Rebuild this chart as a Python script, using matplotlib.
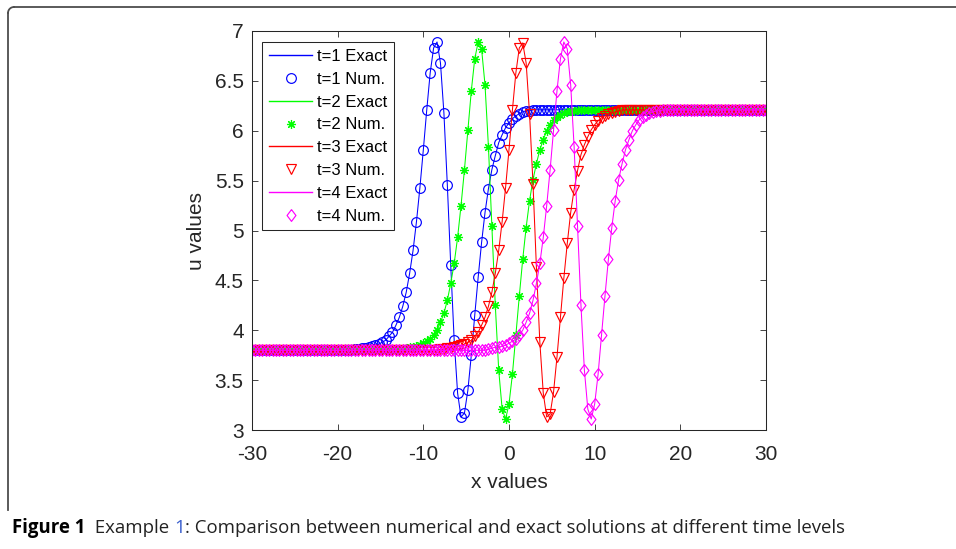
import matplotlib
matplotlib.use('Agg')
import matplotlib.pyplot as plt
import numpy as np
from matplotlib.lines import Line2D

# computation grid: x from -30 to 30, step 0.4
x = np.linspace(-30, 30, 151)

# u values (exact and numerical coincide at plot scale)
u_t1 = ([3.80] * 30 +
        [3.81, 3.81, 3.82, 3.82, 3.83, 3.84, 3.85, 3.86, 3.88, 3.90,
         3.94, 3.98, 4.05, 4.13, 4.24, 4.38, 4.57, 4.80, 5.09, 5.43,
         5.81, 6.21, 6.58, 6.83, 6.89, 6.68, 6.18, 5.46, 4.65, 3.90,
         3.37, 3.13, 3.17, 3.40, 3.75, 4.15, 4.53, 4.88, 5.18, 5.42,
         5.61, 5.75, 5.88, 5.96, 6.03, 6.08, 6.12, 6.15, 6.17, 6.19,
         6.20, 6.20, 6.21] +
        [6.21] * 68)

u_t2 = ([3.80] * 44 +
        [3.81, 3.82, 3.83, 3.83, 3.84, 3.85, 3.87, 3.89, 3.91, 3.95,
         4.00, 4.08, 4.17, 4.30, 4.47, 4.67, 4.93, 5.25, 5.61, 6.01,
         6.40, 6.72, 6.89, 6.82, 6.46, 5.84, 5.05, 4.25, 3.60, 3.21,
         3.11, 3.26, 3.56, 3.95, 4.34, 4.71, 5.03, 5.30, 5.51, 5.67,
         5.81, 5.91, 6.00, 6.06, 6.11, 6.14, 6.16, 6.18, 6.19, 6.20,
         6.20] +
        [6.21] * 56)

u_t3 = ([3.80] * 55 +
        [3.81, 3.81, 3.82, 3.82, 3.83, 3.84, 3.85, 3.86, 3.88, 3.90,
         3.94, 3.98, 4.05, 4.13, 4.24, 4.38, 4.57, 4.80, 5.09, 5.43,
         5.81, 6.21, 6.58, 6.83, 6.88, 6.68, 6.17, 5.47, 4.63, 3.88,
         3.37, 3.13, 3.16, 3.38, 3.73, 4.13, 4.52, 4.87, 5.18, 5.41,
         5.60, 5.76, 5.86, 5.94, 6.01, 6.06, 6.10, 6.13, 6.15, 6.17,
         6.18, 6.19, 6.20] +
        [6.21] * 43)

u_t4 = ([3.80] * 69 +
        [3.81, 3.82, 3.83, 3.83, 3.84, 3.85, 3.87, 3.89, 3.91, 3.95,
         4.00, 4.08, 4.17, 4.30, 4.47, 4.67, 4.93, 5.25, 5.61, 6.01,
         6.40, 6.72, 6.89, 6.82, 6.46, 5.84, 5.05, 4.25, 3.60, 3.21,
         3.11, 3.26, 3.56, 3.95, 4.34, 4.71, 5.03, 5.30, 5.51, 5.67,
         5.81, 5.91, 6.00, 6.06, 6.11, 6.14, 6.16, 6.18, 6.19, 6.20,
         6.20] +
        [6.21] * 31)

diamond = [(0, 1), (0.75, 0), (0, -1), (-0.75, 0), (0, 1)]
series = [('t=1', u_t1, '#0000ff', 'o', 7),
          ('t=2', u_t2, '#00ff00', (8, 2, 0), 6.5),
          ('t=3', u_t3, '#ff0000', 'v', 7.5),
          ('t=4', u_t4, '#ff00ff', diamond, 8.5)]

plt.rcParams['font.family'] = ['Liberation Sans', 'DejaVu Sans']
plt.rcParams['axes.unicode_minus'] = False
fig = plt.figure(figsize=(9.56, 5.49), dpi=100)
ax = fig.add_axes([252 / 956, 1 - 430 / 549, 514 / 956, 399 / 549])

for name, u, c, m, ms in series:
    ax.plot(x, u, color=c, lw=0.75, label=name + ' Exact')
    ax.plot(x, u, ls='none', marker=m, ms=ms, mfc='none', mec=c, mew=0.85,
            label=name + ' Num.')

ax.set_xlim(-30, 30)
ax.set_ylim(3, 7)
ax.set_xticks(np.arange(-30, 31, 10))
ax.set_yticks(np.arange(3, 7.01, 0.5))
ax.set_yticklabels(['3', '3.5', '4', '4.5', '5', '5.5', '6', '6.5', '7'])
ax.tick_params(direction='in', top=True, right=True, length=4, width=0.6,
               labelsize=15, colors='#262626')
ax.tick_params(axis='x', pad=11)
ax.tick_params(axis='y', pad=6)
for sp in ax.spines.values():
    sp.set_linewidth(0.75)
    sp.set_color('#262626')
ax.set_xlabel('x values', fontsize=15, color='#262626', labelpad=6)
ax.set_ylabel('u values', fontsize=15, color='#262626', labelpad=6)

leg = ax.legend(loc='upper left', bbox_to_anchor=(0.020, 0.972), borderaxespad=0,
                fontsize=12, numpoints=1, handlelength=2.6, handletextpad=0.3,
                labelspacing=0.47, borderpad=0.4, fancybox=False, framealpha=1)
leg.get_frame().set_edgecolor('#262626')
leg.get_frame().set_linewidth(0.75)
for h, (name, u, c, m, ms) in zip(leg.get_lines()[::2], series):
    h.set_color(c)
    h.set_linewidth(1.0)

# page frame around the figure
fcol = '#4d4d4d'
fig.add_artist(Line2D([14 / 956, 1.0], [1 - 7 / 549] * 2, color=fcol, lw=1.3,
                      transform=fig.transFigure))
fig.add_artist(Line2D([8 / 956] * 2, [1 - 13 / 549, 1 - 510 / 549], color=fcol,
                      lw=1.3, transform=fig.transFigure))
t = np.linspace(0, np.pi / 2, 10)
fig.add_artist(Line2D((8 + 6 * (1 - np.cos(t))) / 956, 1 - (7 + 6 * (1 - np.sin(t))) / 549,
                      color=fcol, lw=1.3, transform=fig.transFigure))

# caption
fig.canvas.draw()
r = fig.canvas.get_renderer()
parts = [('Figure 1', 'bold', 'black'), ('  Example ', 'normal', '#222222'),
         ('1', 'normal', '#3a5fcd'),
         (': Comparison between numerical and exact solutions at different time levels',
          'normal', '#222222')]
px = 12
for txt, w, c in parts:
    tx = fig.text(px / 956, 1 - 528 / 549, txt, fontsize=13.4, fontweight=w, color=c,
                  family='Open Sans', va='center', ha='left')
    px += tx.get_window_extent(r).width

fig.savefig('out.png', dpi=100)
